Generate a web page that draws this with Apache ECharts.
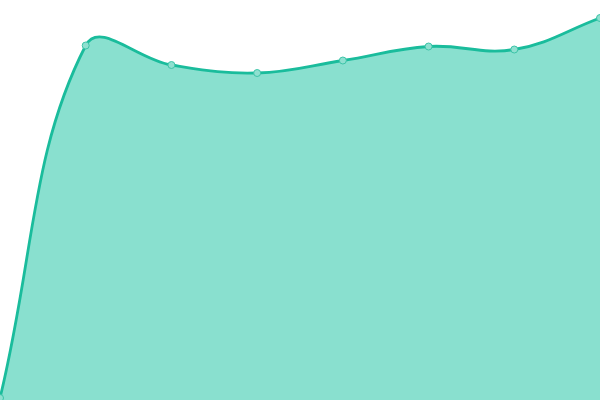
<!DOCTYPE html>
<html>
<head>
<meta charset="utf-8">
<style>
  html, body { margin: 0; padding: 0; background: #fff; }
  #main { width: 600px; height: 400px; }
</style>
<script src="https://cdn.jsdelivr.net/npm/echarts@6/dist/echarts.min.js"></script>
</head>
<body>
<div id="main"></div>
<script>
var categories = ['1', '2', '3', '4', '5', '6', '7', '8'];
var values = [2, 354.5, 335, 327, 339.5, 353.5, 350.5, 382];

var TENSION = 0.4;

// spline through the points, end points use themselves as neighbour,
// control points only kept inside the plot rect
function splinePath(pts, t, rect) {
	function clamp(p) {
		return [Math.min(Math.max(p[0], rect.x), rect.x + rect.width),
			Math.min(Math.max(p[1], rect.y), rect.y + rect.height)];
	}
	var cps = [];
	for (var i = 0; i < pts.length; i++) {
		var cur = pts[i];
		var prev = pts[i - 1] || cur;
		var next = pts[i + 1] || cur;
		var d01 = Math.hypot(cur[0] - prev[0], cur[1] - prev[1]);
		var d12 = Math.hypot(next[0] - cur[0], next[1] - cur[1]);
		var s01 = d01 / (d01 + d12 || 1);
		var s12 = d12 / (d01 + d12 || 1);
		var fa = t * s01, fb = t * s12;
		var vx = next[0] - prev[0], vy = next[1] - prev[1];
		cps.push({
			prev: clamp([cur[0] - fa * vx, cur[1] - fa * vy]),
			next: clamp([cur[0] + fb * vx, cur[1] + fb * vy])
		});
	}
	var d = 'M' + pts[0][0] + ',' + pts[0][1];
	for (var j = 1; j < pts.length; j++) {
		var a = cps[j - 1].next, b = cps[j].prev, p = pts[j];
		d += 'C' + a[0] + ',' + a[1] + ',' + b[0] + ',' + b[1] + ',' + p[0] + ',' + p[1];
	}
	return d;
}

function renderCurve(params, api) {
	if (params.dataIndex !== 0) return;
	var pts = [];
	for (var i = 0; i < values.length; i++) {
		pts.push(api.coord([i, values[i]]));
	}
	var baseY = api.coord([0, 0])[1];
	var line = splinePath(pts, TENSION, params.coordSys);
	var area = line + 'L' + pts[pts.length - 1][0] + ',' + baseY + 'L' + pts[0][0] + ',' + baseY + 'Z';
	return {
		type: 'group',
		children: [{
			type: 'path',
			shape: { pathData: area },
			style: { fill: '#89e0cf', stroke: null }
		}, {
			type: 'path',
			shape: { pathData: line },
			style: { fill: null, stroke: '#1abc9c', lineWidth: 2.8 }
		}]
	};
}

var chart = echarts.init(document.getElementById('main'));
chart.setOption({
	animation: false,
	grid: { left: 0, right: 0, top: 0, bottom: 0 },
	xAxis: {
		type: 'category',
		boundaryGap: false,
		data: categories,
		show: false
	},
	yAxis: {
		type: 'value',
		min: 0,
		max: 400,
		show: false
	},
	series: [{
		type: 'custom',
		renderItem: renderCurve,
		data: [0],
		clip: false,
		silent: true
	}, {
		type: 'scatter',
		data: values,
		symbol: 'circle',
		symbolSize: 7,
		z: 3,
		itemStyle: { color: '#8fe0d0', borderColor: '#3cc4a8', borderWidth: 1, opacity: 1 }
	}]
});
</script>
</body>
</html>
